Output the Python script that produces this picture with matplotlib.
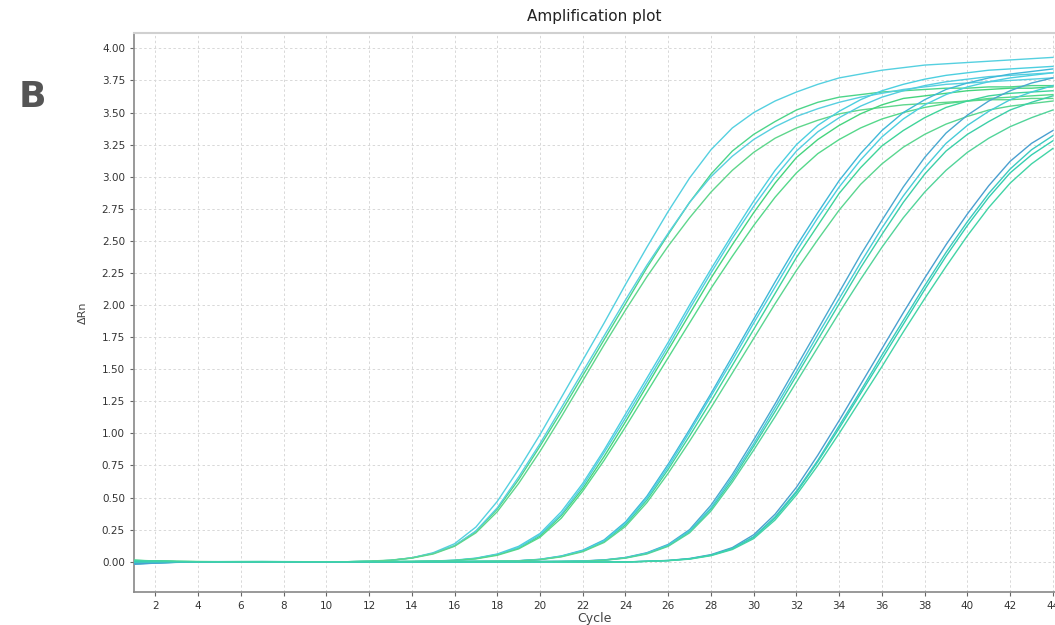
import numpy as np
import matplotlib
matplotlib.use("Agg")
import matplotlib.pyplot as plt

# Циклы ПЦР
cycles = list(range(1, 45))

# Кривые флуоресценции (ΔRn), 5 разведений x 4 повтора
g1a = [-0.012, -0.006, -0.002, 0.0, 0.001, 0.001, 0.001, 0.001, 0.0, 0.0, 0.0, 0.003,
       0.01, 0.03, 0.07, 0.14, 0.27, 0.47, 0.72, 0.99, 1.28, 1.57, 1.86, 2.16, 2.45, 2.73,
       2.99, 3.21, 3.38, 3.50, 3.59, 3.66, 3.72, 3.77, 3.80, 3.83, 3.85, 3.87, 3.88, 3.89,
       3.90, 3.91, 3.92, 3.93]
g1b = [0.008, 0.004, 0.001, 0.0, 0.0, 0.001, 0.001, 0.0, 0.0, 0.0, 0.0, 0.005,
       0.012, 0.03, 0.065, 0.125, 0.235, 0.41, 0.64, 0.90, 1.17, 1.45, 1.73, 2.01, 2.29, 2.55,
       2.80, 3.02, 3.20, 3.33, 3.43, 3.52, 3.58, 3.62, 3.64, 3.66, 3.67, 3.68, 3.69, 3.69,
       3.70, 3.70, 3.71, 3.71]
g1c = [-0.004, -0.002, 0.0, 0.0, 0.0, 0.0, 0.001, 0.0, 0.0, 0.0, 0.0, 0.004,
       0.01, 0.03, 0.065, 0.125, 0.24, 0.42, 0.66, 0.92, 1.20, 1.48, 1.76, 2.04, 2.31, 2.56,
       2.80, 3.00, 3.16, 3.29, 3.39, 3.47, 3.53, 3.58, 3.62, 3.65, 3.68, 3.70, 3.72, 3.73,
       3.74, 3.75, 3.76, 3.77]
g1d = [0.01, 0.005, 0.002, 0.001, 0.0, 0.0, 0.0, 0.0, 0.0, 0.0, 0.0, 0.004,
       0.01, 0.028, 0.06, 0.12, 0.225, 0.39, 0.61, 0.86, 1.13, 1.41, 1.69, 1.96, 2.22, 2.46,
       2.68, 2.88, 3.05, 3.19, 3.30, 3.38, 3.44, 3.49, 3.52, 3.54, 3.56, 3.57, 3.58, 3.59,
       3.60, 3.60, 3.61, 3.61]

g2a = [-0.015, -0.008, -0.003, -0.001, 0.0, 0.0, 0.0, 0.0, 0.0, 0.0, 0.0, 0.0,
       0.001, 0.002, 0.005, 0.012, 0.028, 0.06, 0.12, 0.22, 0.39, 0.61, 0.87, 1.15, 1.43, 1.71,
       2.00, 2.28, 2.55, 2.81, 3.05, 3.25, 3.40, 3.51, 3.60, 3.67, 3.72, 3.76, 3.79, 3.81,
       3.83, 3.84, 3.85, 3.86]
g2b = [0.005, 0.002, 0.0, 0.0, 0.0, 0.0, 0.0, 0.0, 0.0, 0.0, 0.0, 0.0,
       0.001, 0.002, 0.005, 0.01, 0.025, 0.055, 0.107, 0.20, 0.36, 0.57, 0.82, 1.09, 1.37, 1.65,
       1.93, 2.21, 2.47, 2.72, 2.95, 3.15, 3.29, 3.40, 3.49, 3.56, 3.61, 3.63, 3.65, 3.67,
       3.68, 3.69, 3.69, 3.70]
g2c = [-0.007, -0.003, -0.001, 0.0, 0.0, 0.0, 0.0, 0.0, 0.0, 0.0, 0.0, 0.0,
       0.001, 0.002, 0.005, 0.01, 0.026, 0.057, 0.11, 0.21, 0.37, 0.59, 0.85, 1.12, 1.40, 1.68,
       1.97, 2.25, 2.52, 2.77, 3.00, 3.20, 3.35, 3.46, 3.55, 3.62, 3.67, 3.71, 3.74, 3.76,
       3.78, 3.79, 3.80, 3.81]
g2d = [0.012, 0.006, 0.002, 0.001, 0.0, 0.0, 0.0, 0.0, 0.0, 0.0, 0.0, 0.0,
       0.001, 0.002, 0.004, 0.009, 0.022, 0.05, 0.10, 0.19, 0.34, 0.55, 0.79, 1.05, 1.32, 1.59,
       1.86, 2.13, 2.38, 2.62, 2.84, 3.03, 3.18, 3.29, 3.38, 3.45, 3.50, 3.54, 3.57, 3.59,
       3.61, 3.62, 3.63, 3.64]

g3a = [-0.018, -0.01, -0.004, -0.001, 0.0, 0.0, 0.0, 0.0, 0.0, 0.0, 0.0, 0.0,
       0.0, 0.0, 0.001, 0.002, 0.003, 0.005, 0.008, 0.019, 0.045, 0.09, 0.17, 0.31, 0.51, 0.76,
       1.03, 1.31, 1.60, 1.89, 2.18, 2.46, 2.72, 2.97, 3.18, 3.36, 3.50, 3.60, 3.68, 3.73,
       3.77, 3.80, 3.82, 3.84]
g3b = [0.006, 0.003, 0.001, 0.0, 0.0, 0.0, 0.0, 0.0, 0.0, 0.0, 0.0, 0.0,
       0.0, 0.0, 0.001, 0.002, 0.003, 0.004, 0.007, 0.017, 0.041, 0.083, 0.158, 0.288, 0.48, 0.72,
       0.98, 1.25, 1.53, 1.81, 2.09, 2.37, 2.62, 2.87, 3.07, 3.24, 3.36, 3.46, 3.54, 3.59,
       3.63, 3.65, 3.66, 3.67]
g3c = [-0.009, -0.004, -0.001, 0.0, 0.0, 0.0, 0.0, 0.0, 0.0, 0.0, 0.0, 0.0,
       0.0, 0.0, 0.001, 0.002, 0.003, 0.004, 0.007, 0.018, 0.043, 0.086, 0.163, 0.30, 0.495, 0.74,
       1.01, 1.29, 1.57, 1.86, 2.14, 2.42, 2.68, 2.92, 3.13, 3.31, 3.45, 3.56, 3.64, 3.70,
       3.74, 3.77, 3.79, 3.81]
g3d = [0.002, 0.001, 0.0, 0.0, 0.0, 0.0, 0.0, 0.0, 0.0, 0.0, 0.0, 0.0,
       0.0, 0.0, 0.001, 0.001, 0.002, 0.004, 0.006, 0.016, 0.038, 0.078, 0.15, 0.275, 0.46, 0.69,
       0.94, 1.20, 1.47, 1.74, 2.01, 2.27, 2.51, 2.74, 2.94, 3.10, 3.23, 3.33, 3.41, 3.47,
       3.52, 3.55, 3.57, 3.59]

g4a = [-0.02, -0.011, -0.005, -0.002, 0.0, 0.0, 0.0, 0.0, 0.0, 0.0, 0.0, 0.0,
       0.0, 0.0, 0.0, 0.0, 0.0, 0.0, 0.001, 0.002, 0.003, 0.006, 0.014, 0.033, 0.07, 0.135,
       0.25, 0.44, 0.68, 0.95, 1.23, 1.52, 1.81, 2.10, 2.39, 2.66, 2.92, 3.15, 3.34, 3.48,
       3.59, 3.67, 3.73, 3.77]
g4b = [0.003, 0.001, 0.0, 0.0, 0.0, 0.0, 0.0, 0.0, 0.0, 0.0, 0.0, 0.0,
       0.0, 0.0, 0.0, 0.0, 0.0, 0.0, 0.0, 0.001, 0.002, 0.005, 0.012, 0.03, 0.065, 0.125,
       0.235, 0.41, 0.64, 0.90, 1.17, 1.45, 1.73, 2.01, 2.29, 2.55, 2.80, 3.02, 3.20, 3.33,
       3.43, 3.52, 3.58, 3.63]
g4c = [-0.01, -0.005, -0.002, 0.0, 0.0, 0.0, 0.0, 0.0, 0.0, 0.0, 0.0, 0.0,
       0.0, 0.0, 0.0, 0.0, 0.0, 0.0, 0.0, 0.001, 0.002, 0.005, 0.013, 0.031, 0.067, 0.13,
       0.24, 0.42, 0.66, 0.92, 1.20, 1.48, 1.77, 2.05, 2.33, 2.60, 2.85, 3.07, 3.26, 3.40,
       3.51, 3.60, 3.66, 3.71]
g4d = [0.009, 0.004, 0.001, 0.0, 0.0, 0.0, 0.0, 0.0, 0.0, 0.0, 0.0, 0.0,
       0.0, 0.0, 0.0, 0.0, 0.0, 0.0, 0.0, 0.0, 0.002, 0.004, 0.011, 0.028, 0.06, 0.12,
       0.225, 0.395, 0.62, 0.87, 1.13, 1.40, 1.67, 1.94, 2.20, 2.45, 2.68, 2.88, 3.05, 3.19,
       3.30, 3.39, 3.46, 3.52]

g5a = [-0.016, -0.009, -0.004, -0.001, 0.0, 0.0, 0.0, 0.0, 0.0, 0.0, 0.0, 0.0,
       0.0, 0.0, 0.0, 0.0, 0.0, 0.0, 0.0, 0.0, 0.0, -0.002, -0.003, -0.002, 0.004, 0.01,
       0.025, 0.055, 0.11, 0.21, 0.37, 0.58, 0.83, 1.10, 1.38, 1.66, 1.94, 2.21, 2.47, 2.71,
       2.93, 3.12, 3.26, 3.36]
g5b = [0.004, 0.002, 0.0, 0.0, 0.0, 0.0, 0.0, 0.0, 0.0, 0.0, 0.0, 0.0,
       0.0, 0.0, 0.0, 0.0, 0.0, 0.0, 0.0, 0.0, -0.001, -0.003, -0.004, -0.002, 0.003, 0.009,
       0.022, 0.05, 0.10, 0.19, 0.34, 0.54, 0.78, 1.04, 1.31, 1.58, 1.85, 2.12, 2.38, 2.62,
       2.84, 3.03, 3.17, 3.28]
g5c = [-0.006, -0.003, -0.001, 0.0, 0.0, 0.0, 0.0, 0.0, 0.0, 0.0, 0.0, 0.0,
       0.0, 0.0, 0.0, 0.0, 0.0, 0.0, 0.0, 0.0, -0.001, -0.002, -0.003, -0.002, 0.003, 0.009,
       0.023, 0.052, 0.104, 0.195, 0.35, 0.55, 0.79, 1.06, 1.33, 1.61, 1.88, 2.15, 2.41, 2.65,
       2.87, 3.06, 3.21, 3.32]
g5d = [0.011, 0.005, 0.002, 0.0, 0.0, 0.0, 0.0, 0.0, 0.0, 0.0, 0.0, 0.0,
       0.0, 0.0, 0.0, 0.0, 0.0, 0.0, 0.0, 0.0, -0.001, -0.003, -0.004, -0.003, 0.003, 0.008,
       0.02, 0.047, 0.095, 0.18, 0.325, 0.52, 0.75, 1.00, 1.26, 1.52, 1.79, 2.05, 2.30, 2.54,
       2.76, 2.95, 3.10, 3.22]

curves = [g1a, g1b, g1c, g1d, g2a, g2b, g2c, g2d, g3a, g3b, g3c, g3d,
          g4a, g4b, g4c, g4d, g5a, g5b, g5c, g5d]
colors = ['#55d0e0', '#4cd58a', '#58cfe0', '#5fd68c',
          '#4ccfe0', '#45d47e', '#52cde0', '#55d88a',
          '#40b8d8', '#3fd49a', '#4ccfdf', '#5ad690',
          '#4aa8d0', '#3ccfa8', '#48cbd8', '#52d49a',
          '#4a9fd0', '#35cfb0', '#3cc9c0', '#42d4a6']

xticks = list(range(2, 45, 2))
yticks = [0.0, 0.25, 0.5, 0.75, 1.0, 1.25, 1.5, 1.75, 2.0, 2.25, 2.5, 2.75,
          3.0, 3.25, 3.5, 3.75, 4.0]

fig = plt.figure(figsize=(10.55, 6.25), dpi=100)
ax = fig.add_axes([0.127, 0.0528, 0.873, 0.8944])

for y, c in zip(curves, colors):
    ax.plot(cycles, y, color=c, linewidth=1.0, zorder=3)

ax.set_xlim(1, 44.1)
ax.set_ylim(-0.236, 4.12)
ax.set_xticks(xticks)
ax.set_yticks(yticks)
ax.set_yticklabels([f'{v:.2f}' for v in yticks])
ax.grid(True, color='#d8d8d8', linestyle=(0, (2.5, 2.5)), linewidth=0.7, zorder=0)
ax.tick_params(labelsize=7.5, colors='#666666', labelcolor='#333333', length=3)

for s in ['left', 'bottom']:
    ax.spines[s].set_color('#888888')
    ax.spines[s].set_linewidth(1.2)
ax.spines['top'].set_color('#d0d0d0')
ax.spines['top'].set_linewidth(1.5)
ax.spines['right'].set_visible(False)

ax.set_title('Amplification plot', fontsize=11, color='#222222', pad=9)
ax.set_xlabel('Cycle', fontsize=9, color='#444444', labelpad=1)
ax.set_ylabel('ΔRn', fontsize=8, color='#444444', labelpad=10)

fig.text(0.018, 0.845, 'B', fontsize=26, fontweight='bold', color='#555555',
         va='center', ha='left')

fig.savefig('out.png', dpi=100)
